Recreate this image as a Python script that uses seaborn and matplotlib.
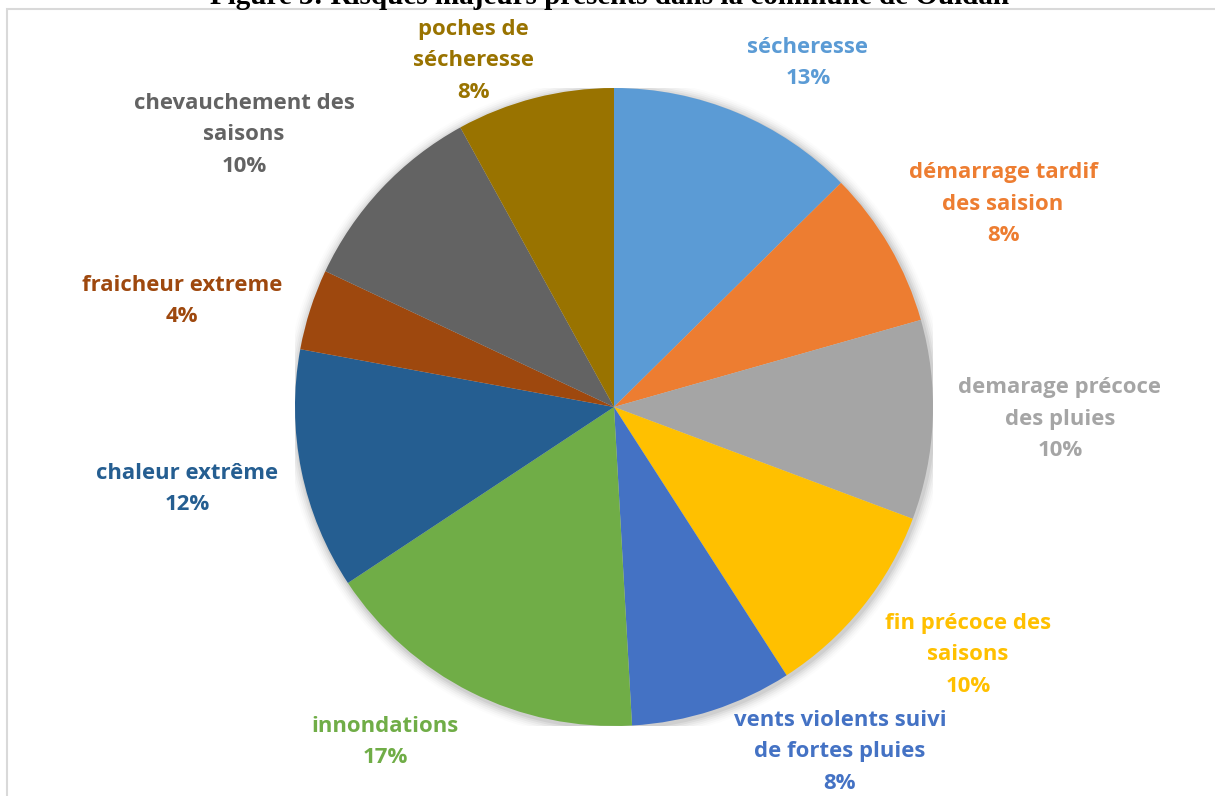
import matplotlib
matplotlib.use("Agg")
import matplotlib.pyplot as plt
import seaborn as sns
import numpy as np
from matplotlib.patches import Circle, Rectangle

sns.set_theme(style="white")
plt.rcParams['font.family'] = ['Open Sans', 'DejaVu Sans']

# ---- data ----
categories = [
    "sécheresse",
    "démarrage tardif\ndes saision",
    "demarage précoce\ndes pluies",
    "fin précoce des\nsaisons",
    "vents violents suivi\nde fortes pluies",
    "innondations",
    "chaleur extrême",
    "fraicheur extreme",
    "chevauchement des\nsaisons",
    "poches de\nsécheresse",
]
values = [12.6, 8.0, 10.1, 10.2, 8.2, 16.6, 12.2, 4.1, 10.0, 8.0]
percent_labels = ["13%", "8%", "10%", "10%", "8%", "17%", "12%", "4%", "10%", "8%"]
colors = ["#5B9BD5", "#ED7D31", "#A5A5A5", "#FFC000", "#4472C4",
          "#70AD47", "#255E91", "#9E480E", "#636363", "#997300"]
title = "Figure 3: Risques majeurs présents dans la commune de Ouidah"

# label centres in pixel space (layout only)
label_px = [(808, 63), (1003, 204), (1060, 419), (968, 655), (840, 752),
            (385, 742), (187, 489), (182, 301), (244, 135), (473, 61)]

W, H = 1215, 796
fig = plt.figure(figsize=(W / 100, H / 100), dpi=100)
fig.patch.set_facecolor("white")

cx, cy, R = 614, 407, 319
ax = fig.add_axes([(cx - R) / W, (H - cy - R) / H, 2 * R / W, 2 * R / H])
ax.set_xlim(-1, 1)
ax.set_ylim(-1, 1)
ax.set_aspect("equal")
ax.axis("off")

# soft shadow
for i, a in enumerate(np.linspace(0.05, 0.01, 6)):
    ax.add_patch(Circle((0.004, -0.006), 1.0 + 0.006 * (i + 1), color="black",
                        alpha=a, lw=0, zorder=0))

ax.pie(values, colors=colors, startangle=90, counterclock=False, radius=1.0,
       wedgeprops=dict(linewidth=0, edgecolor="white"))
ax.set_xlim(-1, 1)
ax.set_ylim(-1, 1)

for cat, pct, col, (px, py) in zip(categories, percent_labels, colors, label_px):
    x = (px - cx) / R
    y = (cy - py) / R
    ax.text(x, y, f"{cat}\n{pct}", color=col, fontsize=15.9, fontweight="bold",
            ha="center", va="center", linespacing=1.63, clip_on=False)

# frame
fig.add_artist(Rectangle((7 / W, -0.05), 1.0, 1 - 9 / H + 0.05,
                         transform=fig.transFigure, fill=False,
                         edgecolor="#D9D9D9", lw=1.5))

fig.text(610 / W, 1 - 4.5 / H, title, ha="center", va="baseline",
         fontsize=21, fontweight="bold", family=["Liberation Serif"],
         color="black")

fig.savefig("out.png", dpi=100, facecolor="white")
